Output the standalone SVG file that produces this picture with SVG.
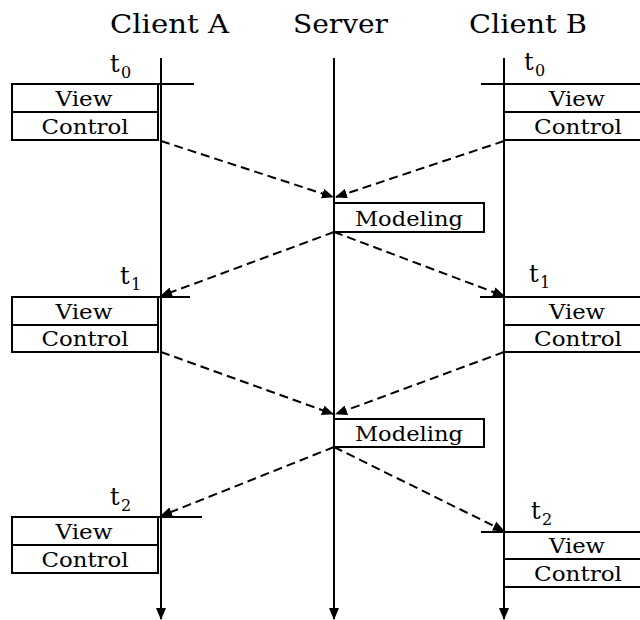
<svg xmlns="http://www.w3.org/2000/svg" width="640" height="620" viewBox="0 0 640 620" font-family="'DejaVu Serif', 'Liberation Serif', 'Times New Roman', serif">
  <defs>
    <marker id="head" viewBox="0 0 12 10" refX="11" refY="5" markerWidth="12" markerHeight="10" markerUnits="userSpaceOnUse" orient="auto">
      <path d="M0,0 L12,5 L0,10 Z" fill="#000"/>
    </marker>
    <marker id="down" viewBox="0 0 12 10" refX="11" refY="5" markerWidth="12" markerHeight="10" markerUnits="userSpaceOnUse" orient="auto">
      <path d="M0,0 L12,5 L0,10 Z" fill="#000"/>
    </marker>
  </defs>
  <style>
    text { font-family: "DejaVu Serif", "Liberation Serif", "Times New Roman", serif; fill: #000; }
    .head { font-size: 26px; }
    .lbl { font-size: 20px; text-anchor: middle; }
    .t { font-size: 24px; }
    .sub { font-size: 16px; }
    .box { fill: #fff; stroke: #000; stroke-width: 2; }
    .life { stroke: #000; stroke-width: 2; fill: none; }
    .tick { stroke: #000; stroke-width: 2; }
    .msg { stroke: #000; stroke-width: 2; stroke-dasharray: 9 5; fill: none; }
  </style>
  <rect width="640" height="620" fill="#fff"/>

  <!-- column headings -->
  <g id="headings">
    <text class="head" x="110" y="33" textLength="119" lengthAdjust="spacingAndGlyphs">Client A</text>
    <text class="head" x="293" y="33" textLength="95" lengthAdjust="spacingAndGlyphs">Server</text>
    <text class="head" x="469" y="33" textLength="118" lengthAdjust="spacingAndGlyphs">Client B</text>
  </g>

  <!-- lifelines -->
  <g id="lifelines">
    <line class="life" x1="161" y1="58" x2="161" y2="619" marker-end="url(#down)"/>
    <line class="life" x1="334" y1="58" x2="334" y2="619" marker-end="url(#down)"/>
    <line class="life" x1="504" y1="58" x2="504" y2="619" marker-end="url(#down)"/>
  </g>

  <!-- Client A states -->
  <g id="a-t0">
    <line class="tick" x1="140" y1="84" x2="194" y2="84"/>
    <rect class="box" x="12" y="84" width="146" height="28"/>
    <rect class="box" x="12" y="112" width="146" height="28"/>
    <text class="lbl" x="84" y="106" textLength="57" lengthAdjust="spacingAndGlyphs">View</text>
    <text class="lbl" x="85" y="134" textLength="87" lengthAdjust="spacingAndGlyphs">Control</text>
    <text class="t"><tspan x="110" y="72">t</tspan><tspan class="sub" x="121" y="78">0</tspan></text>
  </g>
  <g id="a-t1">
    <line class="tick" x1="128" y1="297" x2="190" y2="297"/>
    <rect class="box" x="12" y="297" width="146" height="28"/>
    <rect class="box" x="12" y="325" width="146" height="27"/>
    <text class="lbl" x="84" y="319" textLength="57" lengthAdjust="spacingAndGlyphs">View</text>
    <text class="lbl" x="85" y="346" textLength="87" lengthAdjust="spacingAndGlyphs">Control</text>
    <text class="t"><tspan x="120" y="284">t</tspan><tspan class="sub" x="131" y="290">1</tspan></text>
  </g>
  <g id="a-t2">
    <line class="tick" x1="140" y1="517" x2="202" y2="517"/>
    <rect class="box" x="12" y="517" width="146" height="28"/>
    <rect class="box" x="12" y="545" width="146" height="28"/>
    <text class="lbl" x="84" y="539" textLength="57" lengthAdjust="spacingAndGlyphs">View</text>
    <text class="lbl" x="85" y="567" textLength="87" lengthAdjust="spacingAndGlyphs">Control</text>
    <text class="t"><tspan x="110" y="505">t</tspan><tspan class="sub" x="121" y="511">2</tspan></text>
  </g>

  <!-- Server processing -->
  <g id="s-model1">
    <rect class="box" x="334" y="203" width="150" height="29"/>
    <text class="lbl" x="409" y="226" textLength="108" lengthAdjust="spacingAndGlyphs">Modeling</text>
  </g>
  <g id="s-model2">
    <rect class="box" x="334" y="419" width="150" height="28"/>
    <text class="lbl" x="409" y="441" textLength="108" lengthAdjust="spacingAndGlyphs">Modeling</text>
  </g>

  <!-- Client B states -->
  <g id="b-t0">
    <line class="tick" x1="481" y1="84" x2="504" y2="84"/>
    <rect class="box" x="504" y="84" width="150" height="28"/>
    <rect class="box" x="504" y="112" width="150" height="28"/>
    <text class="lbl" x="577" y="106" textLength="56" lengthAdjust="spacingAndGlyphs">View</text>
    <text class="lbl" x="578" y="134" textLength="88" lengthAdjust="spacingAndGlyphs">Control</text>
    <text class="t"><tspan x="524" y="70">t</tspan><tspan class="sub" x="535" y="76">0</tspan></text>
  </g>
  <g id="b-t1">
    <line class="tick" x1="480" y1="297" x2="504" y2="297"/>
    <rect class="box" x="504" y="297" width="150" height="28"/>
    <rect class="box" x="504" y="325" width="150" height="27"/>
    <text class="lbl" x="577" y="319" textLength="56" lengthAdjust="spacingAndGlyphs">View</text>
    <text class="lbl" x="578" y="346" textLength="88" lengthAdjust="spacingAndGlyphs">Control</text>
    <text class="t"><tspan x="529" y="282">t</tspan><tspan class="sub" x="540" y="288">1</tspan></text>
  </g>
  <g id="b-t2">
    <line class="tick" x1="481" y1="532" x2="504" y2="532"/>
    <rect class="box" x="504" y="532" width="150" height="27"/>
    <rect class="box" x="504" y="559" width="150" height="28"/>
    <text class="lbl" x="577" y="553" textLength="56" lengthAdjust="spacingAndGlyphs">View</text>
    <text class="lbl" x="578" y="581" textLength="88" lengthAdjust="spacingAndGlyphs">Control</text>
    <text class="t"><tspan x="531" y="519">t</tspan><tspan class="sub" x="542" y="525">2</tspan></text>
  </g>

  <!-- messages -->
  <g id="connectors">
    <line class="msg" x1="161" y1="141" x2="333" y2="197" marker-end="url(#head)"/>
    <line class="msg" x1="504" y1="141" x2="336" y2="197" marker-end="url(#head)"/>
    <line class="msg" x1="334" y1="232" x2="161" y2="296" marker-end="url(#head)"/>
    <line class="msg" x1="334" y1="232" x2="504" y2="296" marker-end="url(#head)"/>
    <line class="msg" x1="161" y1="352" x2="333" y2="414" marker-end="url(#head)"/>
    <line class="msg" x1="504" y1="352" x2="336" y2="414" marker-end="url(#head)"/>
    <line class="msg" x1="334" y1="447" x2="161" y2="516" marker-end="url(#head)"/>
    <line class="msg" x1="334" y1="447" x2="504" y2="531" marker-end="url(#head)"/>
  </g>
</svg>
